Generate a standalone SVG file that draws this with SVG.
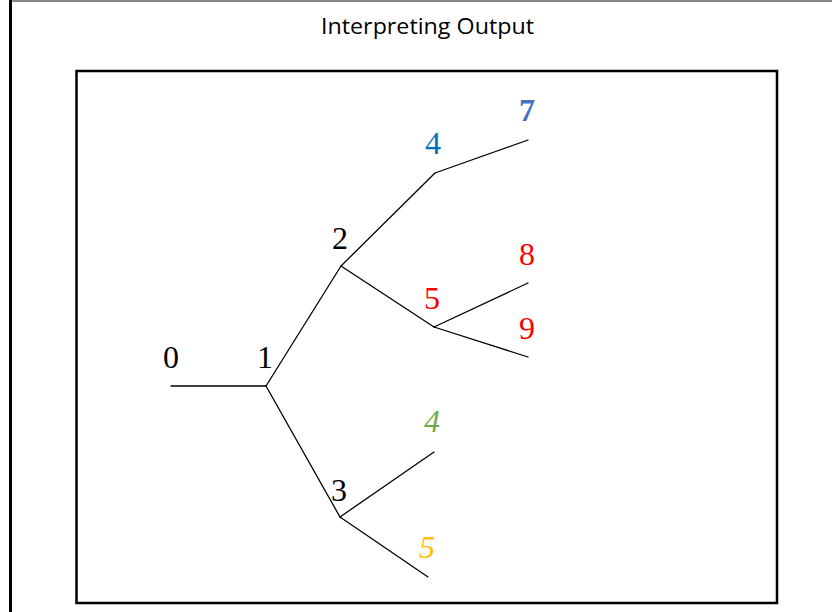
<svg xmlns="http://www.w3.org/2000/svg" width="832" height="612" viewBox="0 0 832 612">
<style>
.c line{stroke:#000;stroke-width:1.3;stroke-linecap:round}
</style>
<rect width="832" height="612" fill="#fff"/>
<line x1="12" y1="1" x2="832" y2="1" stroke="#888" stroke-width="2"/>
<line x1="10.5" y1="0" x2="10.5" y2="612" stroke="#000" stroke-width="3"/>
<text x="427.5" y="34" font-family="Open Sans, Liberation Sans, sans-serif" font-size="21.5" text-anchor="middle" textLength="213" lengthAdjust="spacingAndGlyphs" fill="#000">Interpreting Output</text>
<rect x="76.5" y="71" width="700.5" height="532" fill="none" stroke="#000" stroke-width="2.5"/>
<g class="c" id="connectors">
<line x1="171" y1="386" x2="266" y2="386"/>
<line x1="266" y1="386" x2="341" y2="266"/>
<line x1="266" y1="386" x2="340" y2="517"/>
<line x1="341" y1="266" x2="435" y2="173"/>
<line x1="341" y1="266" x2="434" y2="327"/>
<line x1="435" y1="173" x2="528" y2="140"/>
<line x1="434" y1="327" x2="528" y2="283"/>
<line x1="434" y1="327" x2="528" y2="357"/>
<line x1="340" y1="517" x2="434" y2="452"/>
<line x1="340" y1="517" x2="428" y2="577"/>
</g>
<g font-family="Liberation Serif, Times New Roman, serif" font-size="32" text-anchor="middle">
<g id="n0"><text x="171" y="368">0</text></g>
<g id="n1"><text x="265" y="368">1</text></g>
<g id="n2"><text x="340" y="249">2</text></g>
<g id="n3"><text x="339" y="501">3</text></g>
<g id="n4a"><text x="433" y="154" fill="#0070C0">4</text></g>
<g id="n7"><text x="527" y="121" fill="#4472C4" font-weight="bold">7</text></g>
<g id="n5a"><text x="432" y="309" fill="#FF0000">5</text></g>
<g id="n8"><text x="527" y="265" fill="#FF0000">8</text></g>
<g id="n9"><text x="527" y="339" fill="#FF0000">9</text></g>
<g id="n4b"><text x="432" y="432" fill="#70AD47" font-style="italic">4</text></g>
<g id="n5b"><text x="427" y="558" fill="#FFC000" font-style="italic">5</text></g>
</g>
</svg>
